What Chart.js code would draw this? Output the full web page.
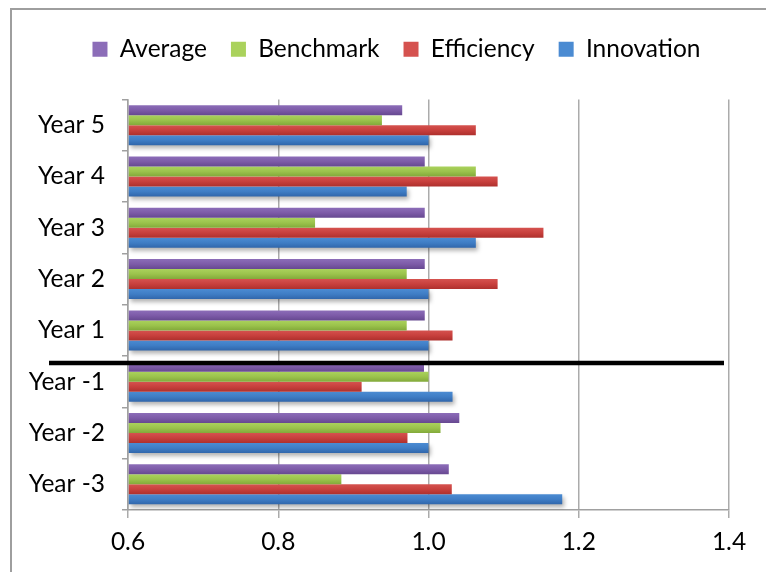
<!DOCTYPE html>
<html>
<head>
<meta charset="utf-8">
<script src="https://cdn.jsdelivr.net/npm/chart.js@4.4.0/dist/chart.umd.js"></script>
<style>
    body { margin: 0; background: #fff; }
    #wrap { position: relative; width: 766px; height: 572px; overflow: hidden; }
    #frame { position: absolute; left: 10px; top: 8px; width: 800px; height: 600px;
             border-left: 2px solid #9e9e9e; border-top: 2px solid #9e9e9e; }
    canvas { position: absolute; left: 0; top: 0; }
</style>
</head>
<body>
<div id="wrap">
    <div id="frame"></div>
    <canvas id="chart" width="766" height="572"></canvas>
</div>
<script>
// Data
const categories = ['Year 5', 'Year 4', 'Year 3', 'Year 2', 'Year 1', 'Year -1', 'Year -2', 'Year -3'];
const average    = [0.965, 0.995, 0.995, 0.995, 0.995, 0.994, 1.041, 1.027];
const benchmark  = [0.938, 1.063, 0.849, 0.971, 0.971, 1.000, 1.016, 0.884];
const efficiency = [1.063, 1.092, 1.153, 1.092, 1.032, 0.911, 0.972, 1.031];
const innovation = [1.000, 0.971, 1.063, 1.000, 1.000, 1.032, 1.000, 1.178];
const xTicks = [0.6, 0.8, 1.0, 1.2, 1.4];

const FONT = 'Lato';
const FONT_SIZE = 24.5;
const CAT_PCT = 0.78;

// colours: [flat, top, bottom]
const colours = {
    Average:    ['#7d5ba8', '#8c6db8', '#664890'],
    Benchmark:  ['#9bc34c', '#aad25c', '#82a93a'],
    Efficiency: ['#c8403d', '#d5524f', '#ae302d'],
    Innovation: ['#3f7dc5', '#4b8bd2', '#3066ab']
};

// vertical gradient for every bar, like the Excel look
function barFill(name) {
    return (ctx) => {
        const c = colours[name];
        if (ctx.type !== 'data') return c[0];
        const chart = ctx.chart;
        const y = chart.scales.y;
        if (!y || !isFinite(y.top) || !isFinite(y.bottom)) return c[0];
        const band = (y.bottom - y.top) / categories.length;
        const thick = band * CAT_PCT / 4;
        const top = y.getPixelForValue(ctx.dataIndex) - band * CAT_PCT / 2 + ctx.datasetIndex * thick;
        if (!isFinite(top) || !isFinite(thick)) return c[0];
        const g = chart.ctx.createLinearGradient(0, top, 0, top + thick);
        g.addColorStop(0, c[1]);
        g.addColorStop(0.5, c[0]);
        g.addColorStop(1, c[2]);
        return g;
    };
}

function makeSet(name, values) {
    return {
        label: name,
        data: values,
        base: 0.6,
        backgroundColor: barFill(name),
        borderWidth: 0,
        categoryPercentage: CAT_PCT,
        barPercentage: 1.0
    };
}

// extra room under the legend and shift it to the right
const legendTweak = {
    id: 'legendTweak',
    beforeInit(chart) {
        const fit = chart.legend.fit;
        chart.legend.fit = function () {
            fit.bind(chart.legend)();
            this.height += 28;
        };
    },
    afterLayout(chart) {
        chart.legend.left += 32;
        chart.legend.right += 32;
    }
};

// thick black divider between Year 1 and Year -1
const divider = {
    id: 'divider',
    afterDatasetsDraw(chart) {
        const y = chart.scales.y;
        const area = chart.chartArea;
        const edge = (y.getPixelForValue(4) + y.getPixelForValue(5)) / 2 + 7;
        const c = chart.ctx;
        c.save();
        c.strokeStyle = '#000';
        c.lineWidth = 4.5;
        c.beginPath();
        c.moveTo(area.left - 79, edge);
        c.lineTo(area.right - 5, edge);
        c.stroke();
        c.restore();
    }
};

// soft shadow under the bottom bar of every group
const shadow = {
    id: 'shadow',
    beforeDatasetDraw(chart, args) {
        if (args.index !== 3) return;
        const c = chart.ctx;
        c.save();
        c.shadowColor = 'rgba(0,0,0,0.3)';
        c.shadowBlur = 4;
        c.shadowOffsetX = 2;
        c.shadowOffsetY = 3;
    },
    afterDatasetDraw(chart, args) {
        if (args.index !== 3) return;
        chart.ctx.restore();
    }
};

new Chart(document.getElementById('chart'), {
    type: 'bar',
    data: {
        labels: categories,
        datasets: [
            makeSet('Average', average),
            makeSet('Benchmark', benchmark),
            makeSet('Efficiency', efficiency),
            makeSet('Innovation', innovation)
        ]
    },
    options: {
        indexAxis: 'y',
        responsive: false,
        animation: false,
        layout: { padding: { left: 0, right: 37, top: 13, bottom: 0 } },
        plugins: {
            legend: {
                position: 'top',
                labels: {
                    boxWidth: 15,
                    boxHeight: 15,
                    padding: 24,
                    color: '#000',
                    font: { family: FONT, size: FONT_SIZE }
                }
            },
            tooltip: { enabled: false }
        },
        scales: {
            x: {
                min: 0.6,
                max: 1.4,
                afterFit: (s) => { s.height = 62; },
                afterBuildTicks: (s) => { s.ticks = xTicks.map(v => ({ value: v })); },
                ticks: {
                    color: '#000',
                    padding: 9,
                    font: { family: FONT, size: FONT_SIZE },
                    callback: (v) => Number(v).toFixed(1)
                },
                grid: { color: '#ababab', lineWidth: 1.5, tickLength: 8 },
                border: { color: '#a0a0a0', width: 1.5 }
            },
            y: {
                afterFit: (s) => { s.width = 128; },
                ticks: {
                    color: '#000',
                    padding: 17,
                    font: { family: FONT, size: FONT_SIZE }
                },
                grid: { drawOnChartArea: false, color: '#a0a0a0', lineWidth: 1.5, tickLength: 6, offset: true },
                border: { color: '#a0a0a0', width: 1.5 }
            }
        }
    },
    plugins: [legendTweak, divider, shadow]
});
</script>
</body>
</html>
